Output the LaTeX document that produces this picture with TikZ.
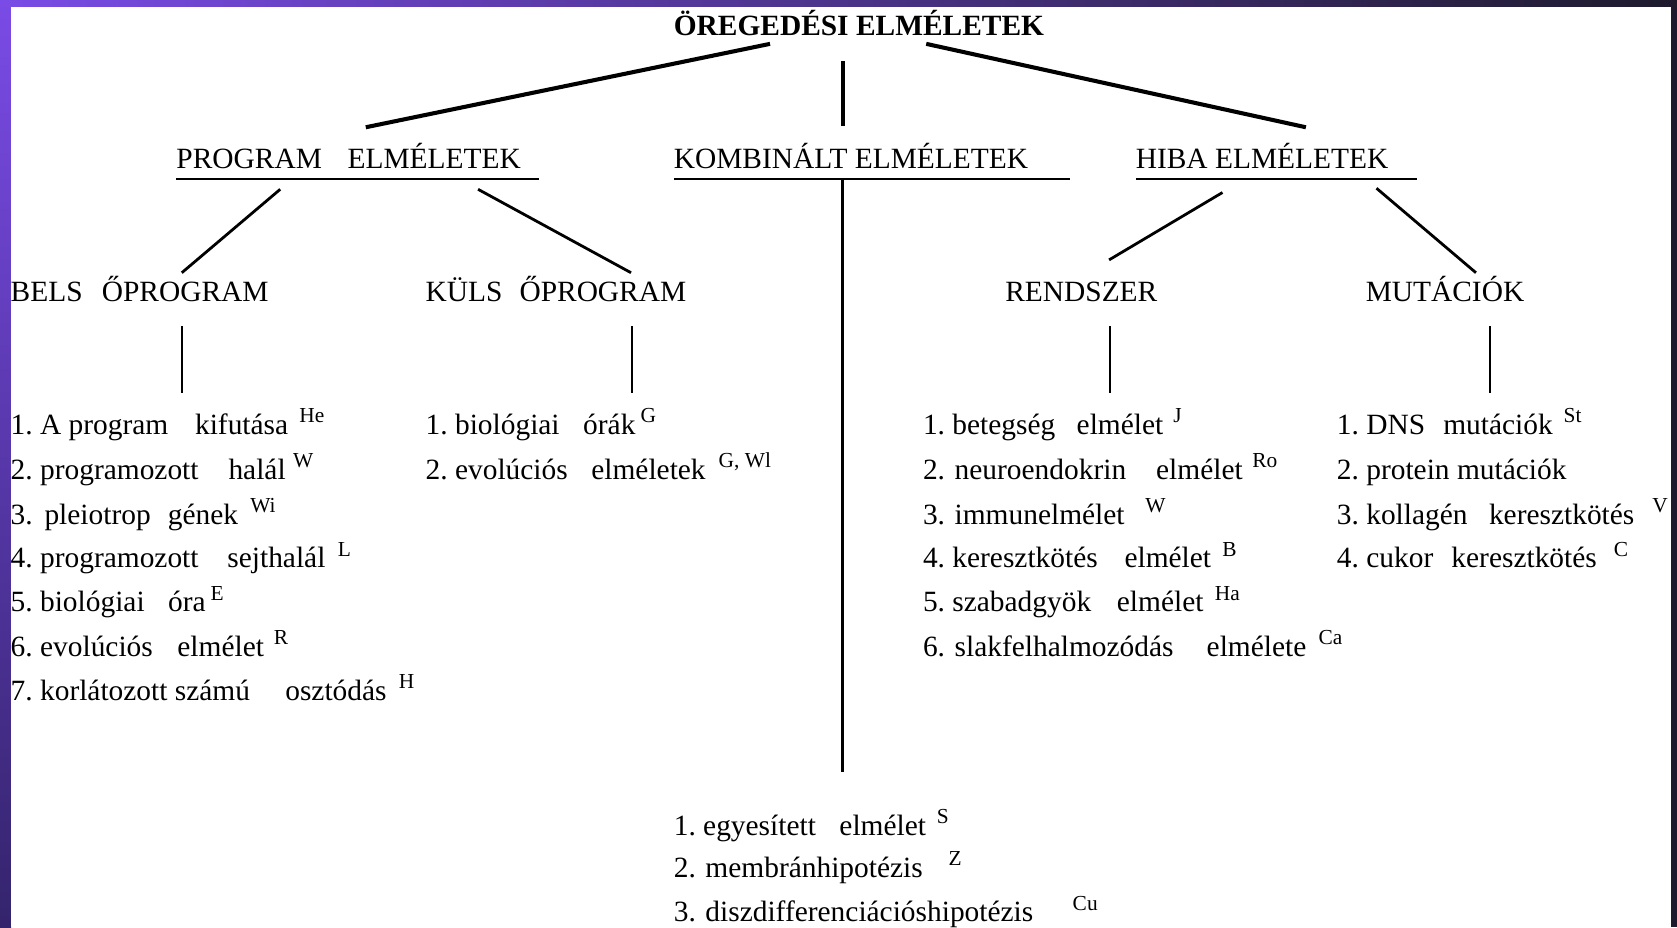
\documentclass[tikz,border=0pt]{standalone}
\usepackage{fontspec}
\setmainfont{Liberation Serif}
\frenchspacing
\newlength\pxu \setlength\pxu{0.5pt}
\newcommand\G[1]{\hspace{#1\pxu}}
\definecolor{bandA}{HTML}{7A4BE6}
\definecolor{bandB}{HTML}{1E1A2C}
\definecolor{bandC}{HTML}{34246C}
\begin{document}
\begin{tikzpicture}[x=0.5pt,y=-0.5pt,
  txt/.style={anchor=base west,inner sep=0pt,outer sep=0pt,font=\fontsize{13.75}{16}\selectfont},
  ttl/.style={txt,font=\bfseries\fontsize{13.75}{16}\selectfont},
  sup/.style={anchor=base west,inner sep=0pt,outer sep=0pt,font=\fontsize{10}{11}\selectfont},
  big/.style={line width=1.9pt},
  mid/.style={line width=1.3pt},
  kline/.style={line width=1.5pt},
  thin/.style={line width=0.9pt},
  ul/.style={line width=1pt}]
% frame
\useasboundingbox (0,0) rectangle (1568,867);
\fill[left color=bandA,right color=bandB] (0,0) rectangle (1568,7);
\fill[top color=bandA,bottom color=bandC] (0,0) rectangle (10.3,867);
\fill[bandB] (1562.5,0) rectangle (1568,867);
\fill[white] (10.3,6.6) rectangle (1562.5,867);

% title
\node[ttl] (title) at (630,33) {ÖREGEDÉSI ELMÉLETEK};

% level 2
\node[txt] (prog) at (165,158) {PROGRAM\G{24}ELMÉLETEK};
\node[txt] (komb) at (630,158) {KOMBINÁLT ELMÉLETEK};
\node[txt] (hiba) at (1062,158) {HIBA ELMÉLETEK};
\draw[ul] (165,167) -- (504,167);
\draw[ul] (630,167) -- (1000,167);
\draw[ul] (1062,167) -- (1325,167);

% level 3
\node[txt] (bels) at (10,282) {BELS\G{18}ŐPROGRAM};
\node[txt] (kuls) at (398,282) {KÜLS\G{16}ŐPROGRAM};
\node[txt] (rend) at (940,282) {RENDSZER};
\node[txt] (mut) at (1277,282) {MUTÁCIÓK};

% connector end points
\coordinate (tL) at (720,41);
\coordinate (tM) at (788,57);
\coordinate (tR) at (866,41);
\coordinate (pT) at (342,119);
\coordinate (kT) at (788,118);
\coordinate (hT) at (1221,119);
\coordinate (pL) at (262,177);
\coordinate (pR) at (447,177);
\coordinate (belsT) at (170,255);
\coordinate (kulsT) at (590,255);
\coordinate (hL) at (1143,180);
\coordinate (hR) at (1287,176);
\coordinate (rendT) at (1037,243);
\coordinate (mutT) at (1380,255);
\coordinate (kB) at (788,167);
\coordinate (kE) at (788,722);
\coordinate (belsB) at (170,305);
\coordinate (belsE) at (170,367);
\coordinate (kulsB) at (591,305);
\coordinate (kulsE) at (591,367);
\coordinate (rendB) at (1038,305);
\coordinate (rendE) at (1038,367);
\coordinate (mutB) at (1393,305);
\coordinate (mutE) at (1393,367);

\draw[big] (tL) -- (pT);
\draw[big] (tM) -- (kT);
\draw[big] (tR) -- (hT);
\draw[mid] (pL) -- (belsT);
\draw[mid] (pR) -- (kulsT);
\draw[mid] (hL) -- (rendT);
\draw[mid] (hR) -- (mutT);
\draw[kline] (kB) -- (kE);
\draw[thin] (belsB) -- (belsE);
\draw[thin] (kulsB) -- (kulsE);
\draw[thin] (rendB) -- (rendE);
\draw[thin] (mutB) -- (mutE);

% BELSŐ list
\node[txt] (b1) at (10,406) {1. A program\G{25}kifutása};
\node[txt] (b2) at (10,448) {2. programozott\G{28}halál};
\node[txt] (b3) at (10,490) {3.\G{11}pleiotrop\G{16}gének};
\node[txt] (b4) at (10,531) {4. programozott\G{27}sejthalál};
\node[txt] (b5) at (10,572) {5. biológiai\G{22}óra};
\node[txt] (b6) at (10,614) {6. evolúciós\G{23}elmélet};
\node[txt] (b7) at (10,655) {7. korlátozott számú\G{33}osztódás};
\node[sup] (sb1) at (280,395) {He};
\node[sup] (sb2) at (274,437) {W};
\node[sup] (sb3) at (234,479) {Wi};
\node[sup] (sb4) at (316,520) {L};
\node[sup] (sb5) at (197,561) {E};
\node[sup] (sb6) at (256,603) {R};
\node[sup] (sb7) at (373,644) {H};

% KÜLSŐ list
\node[txt] (k1) at (398,406) {1. biológiai\G{22}órák};
\node[txt] (k2) at (398,448) {2. evolúciós\G{22}elméletek};
\node[sup] (sk1) at (599,395) {G};
\node[sup] (sk2) at (672,437) {G, Wl};

% RENDSZER list
\node[txt] (r1) at (863,406) {1. betegség\G{20}elmélet};
\node[txt] (r2) at (863,448) {2.\G{9}neuroendokrin\G{28}elmélet};
\node[txt] (r3) at (863,490) {3.\G{9}immunelmélet};
\node[txt] (r4) at (863,531) {4. keresztkötés\G{25}elmélet};
\node[txt] (r5) at (863,572) {5. szabadgyök\G{24}elmélet};
\node[txt] (r6) at (863,614) {6.\G{9}slakfelhalmozódás\G{31}elmélete};
\node[sup] (sr1) at (1097,395) {J};
\node[sup] (sr2) at (1171,437) {Ro};
\node[sup] (sr3) at (1071,479) {W};
\node[sup] (sr4) at (1143,520) {B};
\node[sup] (sr5) at (1136,561) {Ha};
\node[sup] (sr6) at (1233,603) {Ca};

% MUTÁCIÓK list
\node[txt] (m1) at (1250,406) {1. DNS\G{17}mutációk};
\node[txt] (m2) at (1250,448) {2. protein mutációk};
\node[txt] (m3) at (1250,490) {3. kollagén\G{20}keresztkötés};
\node[txt] (m4) at (1250,531) {4. cukor\G{17}keresztkötés};
\node[sup] (sm1) at (1462,395) {St};
\node[sup] (sm3) at (1545,479) {V};
\node[sup] (sm4) at (1509,520) {C};

% KOMBINÁLT list
\node[txt] (c1) at (630,781) {1. egyesített\G{22}elmélet};
\node[txt] (c2) at (630,820) {2.\G{9}membránhipotézis};
\node[txt] (c3) at (630,862) {3.\G{9}diszdifferenciációshipotézis};
\node[sup] (sc1) at (876,770) {S};
\node[sup] (sc2) at (887,809) {Z};
\node[sup] (sc3) at (1003,851) {Cu};
\end{tikzpicture}
\end{document}
